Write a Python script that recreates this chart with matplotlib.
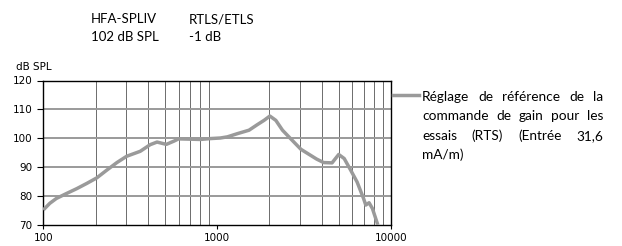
import matplotlib
matplotlib.use('Agg')
import matplotlib.pyplot as plt
from matplotlib.lines import Line2D

# courbe de réponse
freq_hz = [100, 109, 119, 136, 156, 178, 203, 232, 265, 302, 361, 412, 451,
           510, 563, 600, 700, 800, 912, 1042, 1145, 1306, 1525, 1700, 1860,
           2010, 2176, 2376, 2643, 3032, 3449, 3737, 4100, 4580, 5002, 5380,
           5860, 6380, 6950, 7160, 7480, 7820, 8400]
level_db = [75.2, 77.5, 79.2, 80.9, 82.6, 84.4, 86.3, 89.0, 91.6, 93.8, 95.5,
            97.8, 98.7, 97.9, 99.0, 99.8, 99.7, 99.6, 99.9, 100.1, 100.5,
            101.6, 102.8, 104.7, 106.2, 107.7, 106.2, 102.8, 99.9, 96.2, 94.1,
            92.8, 91.6, 91.5, 94.4, 93.0, 89.0, 84.9, 79.2, 76.9, 77.7, 75.7,
            70.0]

y_ticks = [70, 80, 90, 100, 110, 120]
x_ticks = [100, 1000, 10000]
x_minor = [200, 300, 400, 500, 600, 700, 800, 900,
           2000, 3000, 4000, 5000, 6000, 7000, 8000, 9000]

header_cols = [('HFA-SPLIV', '102 dB SPL'), ('RTLS/ETLS', '-1 dB')]
legend_lines = ['Réglage de référence de la',
                'commande de gain pour les',
                'essais (RTS) (Entrée 31,6',
                'mA/m)']

W, H = 622, 246
CURVE = '#9a9a9a'
TEXT_FONT = ['Lato', 'DejaVu Sans']


def justify(fig, renderer, words, x0, x1, y, last=False, **kw):
    """Place des mots justifiés entre x0 et x1 (pixels), y = ligne de base."""
    texts = [fig.text(0, y / H, w, va='baseline', **kw) for w in words]
    widths = [t.get_window_extent(renderer).width for t in texts]
    if last or len(words) == 1:
        gap = 0.3 * kw.get('fontsize', 10) * 100 / 72
    else:
        gap = (x1 - x0 - sum(widths)) / (len(words) - 1)
    x = x0
    for t, w in zip(texts, widths):
        t.set_x(x / W)
        x += w + gap


def main() -> None:
    fig = plt.figure(figsize=(W / 100, H / 100), dpi=100)
    ax = fig.add_axes([43.3 / W, (H - 225) / H, (391 - 43.3) / W, (225 - 80.5) / H])

    ax.set_xscale('log')
    ax.set_xlim(100, 10000)
    ax.set_ylim(70, 120)

    for f in x_minor:
        ax.axvline(f, color='#555555', lw=0.6, zorder=1)
    for v in y_ticks[1:-1]:
        ax.axhline(v, color='#9a9a9a', lw=1.4, zorder=1)

    ax.plot(freq_hz, level_db, color=CURVE, lw=2.5, solid_capstyle='butt', zorder=3)

    ax.set_yticks(y_ticks)
    ax.set_yticklabels([str(v) for v in y_ticks], fontsize=7.5)
    ax.set_xticks(x_ticks)
    ax.set_xticklabels([str(v) for v in x_ticks], fontsize=7.5)
    ax.xaxis.set_minor_locator(matplotlib.ticker.NullLocator())
    ax.tick_params(axis='y', length=4, width=0.8, pad=4)
    ax.tick_params(axis='x', length=3, width=0.8, pad=3)
    for s in ax.spines.values():
        s.set_linewidth(1.0)

    fig.text(16 / W, (H - 67) / H, 'dB SPL', fontsize=7.5, va='center')

    # en-tête
    for (top, bottom), x in zip(header_cols, [91, 189]):
        fig.text(x / W, (H - 23.3) / H, top, fontsize=9.5, va='baseline', family=TEXT_FONT)
        fig.text(x / W, (H - 40.7) / H, bottom, fontsize=9.5, va='baseline', family=TEXT_FONT)

    # légende
    fig.add_artist(Line2D([393 / W, 419 / W], [(H - 95) / H] * 2,
                          transform=fig.transFigure, color=CURVE, lw=2.5))
    renderer = fig.canvas.get_renderer()
    for i, line in enumerate(legend_lines):
        justify(fig, renderer, line.split(), 422, 603, H - (100.7 + i * 19.5),
                last=(i == len(legend_lines) - 1), fontsize=9.8, family=TEXT_FONT)

    fig.savefig('out.png', dpi=100)
    plt.close(fig)


if __name__ == '__main__':
    main()
